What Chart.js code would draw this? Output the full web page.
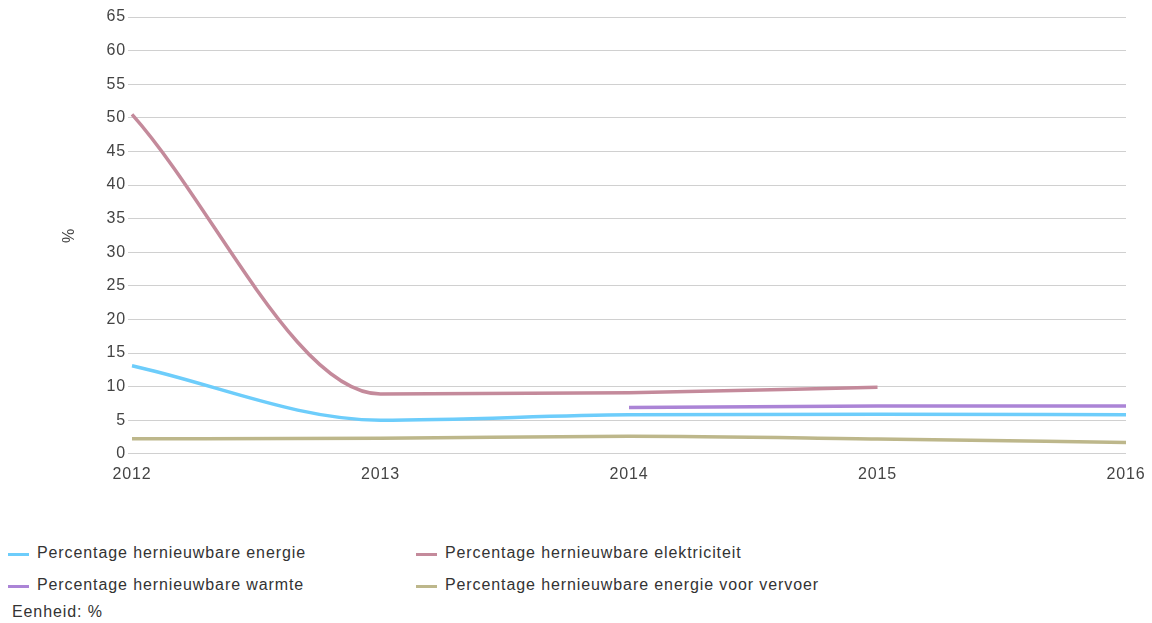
<!DOCTYPE html>
<html>
<head>
<meta charset="utf-8">
<script src="https://cdn.jsdelivr.net/npm/chart.js@4.4.0/dist/chart.umd.min.js"></script>
<style>
    body { margin: 0; background: #fff; font-family: "Liberation Sans", Arial, sans-serif; }
    #wrap { position: relative; width: 1152px; height: 623px; }
    #grafiek { position: absolute; left: 0; top: 0; }
    .legenda { position: absolute; font-size: 16px; letter-spacing: 0.9px; color: #333; }
    .item { position: absolute; white-space: nowrap; }
    .item span.lijn { position: absolute; left: 0; top: 8px; width: 21px; height: 3px; }
    .item span.tekst { position: absolute; left: 29px; top: -1px; }
    #eenheid { position: absolute; left: 12px; top: 603px; font-size: 16px; letter-spacing: 0.9px; color: #333; }
</style>
</head>
<body>
<div id="wrap">
    <canvas id="grafiek" width="1152" height="503"></canvas>
    <div id="legenda"></div>
    <div id="eenheid">Eenheid: %</div>
</div>
<script>
// jaren op de x-as
var jaren = ['2012', '2013', '2014', '2015', '2016'];

// waarden in %
var energie = [13.1, 5.0, 5.8, 5.9, 5.8];
var elektriciteit = [50.5, 8.9, 9.1, 9.9, null];
var warmte = [null, null, 6.9, 7.1, 7.1];
var vervoer = [2.25, 2.3, 2.6, 2.2, 1.7];

var namen = [
    'Percentage hernieuwbare energie',
    'Percentage hernieuwbare elektriciteit',
    'Percentage hernieuwbare warmte',
    'Percentage hernieuwbare energie voor vervoer'
];
var kleuren = ['#6dcdfb', '#c48a9b', '#ab84d6', '#bdb78b'];

var yMin = 0;
var yMax = 65;
var yStap = 5;

function lijn(i, data) {
    return {
        label: namen[i],
        data: data,
        borderColor: kleuren[i],
        backgroundColor: kleuren[i],
        borderWidth: 3.5,
        pointRadius: 0,
        pointHoverRadius: 0,
        cubicInterpolationMode: 'monotone',
        spanGaps: false,
        fill: false
    };
}

var datasets = [
    lijn(0, energie),
    lijn(1, elektriciteit),
    lijn(2, warmte),
    lijn(3, vervoer)
];

// iets ruimere letters, zoals in het origineel
var letterruimte = {
    id: 'letterruimte',
    beforeUpdate: function (chart) { chart.ctx.letterSpacing = '0.8px'; },
    beforeDraw: function (chart) { chart.ctx.letterSpacing = '0.8px'; }
};

var lettertype = { family: '"Liberation Sans", Arial', size: 16 };

const ctx = document.getElementById('grafiek');

var grafiek = new Chart(ctx, {
    type: 'line',
    data: {
        labels: jaren,
        datasets: datasets
    },
    plugins: [letterruimte],
    options: {
        responsive: false,
        animation: false,
        layout: {
            padding: { top: 17, right: 0, bottom: 8, left: 0 }
        },
        plugins: {
            legend: { display: false },
            tooltip: { enabled: false }
        },
        scales: {
            x: {
                offset: false,
                afterFit: function (scale) { scale.paddingRight = 26; },
                grid: { display: false, drawTicks: false },
                border: { display: false },
                ticks: {
                    color: '#444',
                    padding: 11,
                    maxRotation: 0,
                    font: lettertype
                }
            },
            y: {
                min: yMin,
                max: yMax,
                afterFit: function (scale) { scale.width = 132; },
                grid: { color: '#d0d0d0', lineWidth: 1, tickLength: 4, tickColor: '#d0d0d0' },
                border: { display: false },
                ticks: {
                    stepSize: yStap,
                    color: '#444',
                    padding: 2,
                    font: lettertype
                },
                title: {
                    display: true,
                    text: '%',
                    color: '#444',
                    padding: { top: 60, bottom: 30 },
                    font: lettertype
                }
            }
        }
    }
});

// eigen legenda in twee kolommen
var posities = [[8, 545], [416, 545], [8, 577], [416, 577]];
var html = '';
grafiek.data.datasets.forEach(function (ds, i) {
    html += '<div class="item legenda" style="left:' + posities[i][0] + 'px;top:' + posities[i][1] + 'px">' +
        '<span class="lijn" style="background:' + ds.borderColor + '"></span>' +
        '<span class="tekst">' + ds.label + '</span></div>';
});
document.getElementById('legenda').innerHTML = html;
</script>
</body>
</html>
